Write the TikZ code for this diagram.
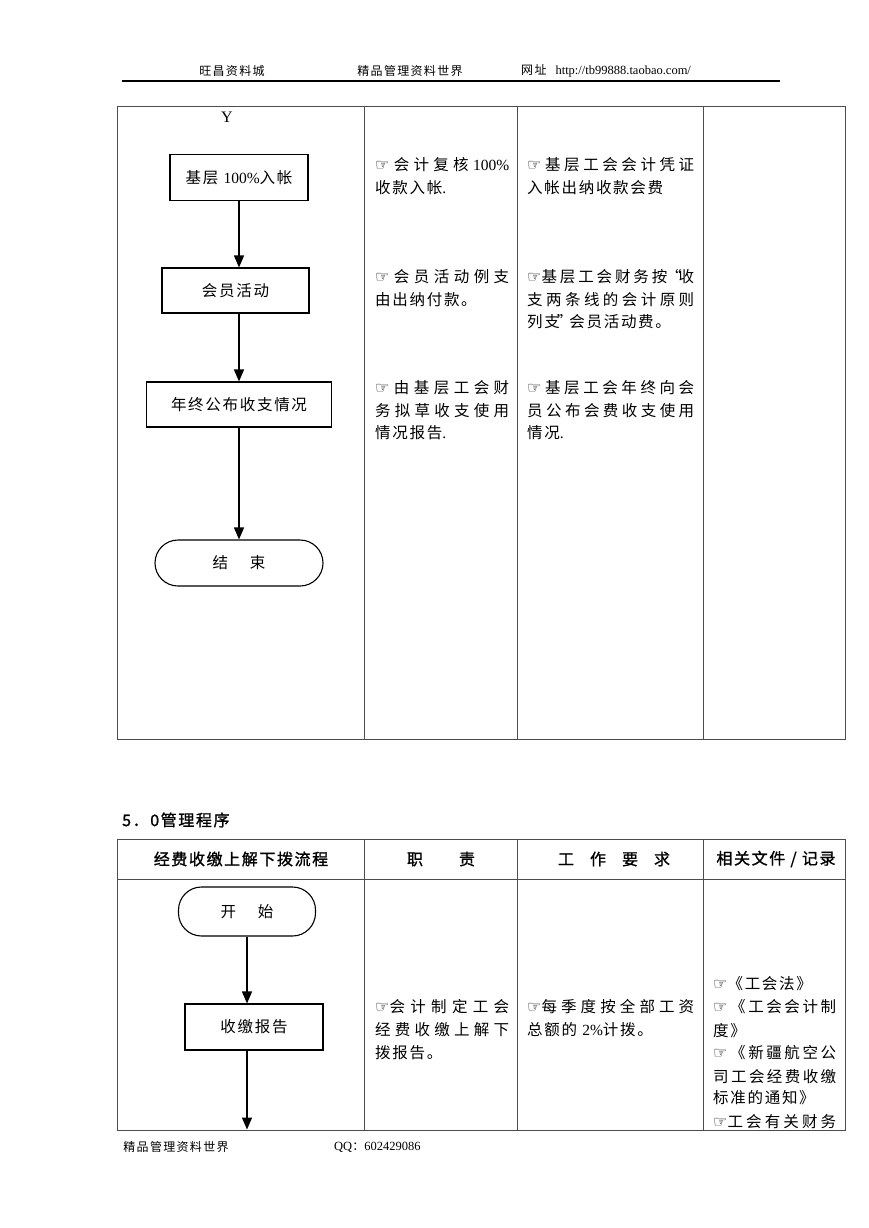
\documentclass[tikz,border=0pt]{standalone}
\usepackage{fontspec}
\setmainfont{Noto Sans CJK SC}[LetterSpace=11]
\newfontfamily\cjkn{Noto Sans CJK SC}
\newfontfamily\en{Liberation Serif}
\newfontfamily\sym{DejaVu Sans}
\newfontfamily\cjkb{Noto Sans CJK SC}[FakeBold=1.2,LetterSpace=10]
\usetikzlibrary{arrows.meta}
\newcommand\E[1]{{\en #1}}
\newcommand\hand{{\sym\fontsize{16}{16}\selectfont ☞}}
\newcommand\J[2]{\makebox[#1pt][s]{\cjkn #2}}
\newcommand\fs{\fontsize{15.5}{17}\selectfont}
\tikzset{
  tbl/.style={draw=black!70, line width=0.9pt},
  proc/.style={draw, line width=1.1pt, inner sep=0pt, font=\fs},
  term/.style={proc, rounded corners=23pt},
  arr/.style={line width=1.4pt, -{Triangle[length=12pt,width=10pt]}},
  txt/.style={anchor=base west, inner sep=0pt, font=\fs},
  hdr/.style={inner sep=0pt, font=\cjkb\fontsize{16}{18}\selectfont},
  small/.style={inner sep=0pt, font=\fontsize{12}{14}\selectfont}
}
\begin{document}
\begin{tikzpicture}[x=1pt,y=-1pt]
\fill[white] (0,0) rectangle (868,1228);
\useasboundingbox (0,0) rectangle (868,1228);
% page header
\node[small] (h1) at (232,71) {旺昌资料城};
\node[small] (h2) at (410,71) {精品管理资料世界};
\node[small, anchor=west] (h3) at (521,71) {网址\hspace{9pt}\E{\fontsize{12.5}{14}\selectfont http://tb99888.taobao.com/}};
\draw[line width=1.1pt] (122,81) -- (780,81);
% upper table
\draw[tbl] (117,106) rectangle (845,739);
\foreach \x in {364,517,703} \draw[tbl] (\x,106) -- (\x,739);
\node[inner sep=0pt, font=\en\fontsize{16}{16}\selectfont] (yy) at (227,117) {Y};
\node[proc, minimum width=138pt, minimum height=46pt] (b1) at (239,177.5) {基层 \E{100\%}入帐};
\node[proc, minimum width=147pt, minimum height=45pt] (b2) at (235.5,290.5) {会员活动};
\node[proc, minimum width=185pt, minimum height=45pt] (b3) at (239,404.5) {年终公布收支情况};
\node[term, minimum width=168pt, minimum height=46pt] (e) at (239,563) {结\hspace{22pt}束};
\draw[arr] (b1.south) -- (b1.south |- b2.north);
\draw[arr] (b1.south |- b2.south) -- (b1.south |- b3.north);
\draw[arr] (b3.south) -- (b3.south |- e.north);
% column 2, upper
\node[txt] (c21) at (375,170.5) {\J{134}{\hand{} 会 计 复 核 \E{100\%}}};
\node[txt] (c22) at (375,193.5) {收款入帐\E{.}};
\node[txt] (c23) at (375,282.5) {\J{134}{\hand{} 会 员 活 动 例 支}};
\node[txt] (c24) at (375,305.5) {由出纳付款。};
\node[txt] (c25) at (375,393.5) {\J{134}{\hand{} 由 基 层 工 会 财}};
\node[txt] (c26) at (375,416.5) {\J{134}{务 拟 草 收 支 使 用}};
\node[txt] (c27) at (375,438.5) {情况报告\E{.}};
% column 3, upper
\node[txt] (c31) at (527,170.5) {\J{167}{\hand{} 基 层 工 会 会 计 凭 证}};
\node[txt] (c32) at (527,193.5) {入帐出纳收款会费};
\node[txt] (c33) at (527,282.5) {\J{167}{\hand{}基 层 工 会 财 务 按 \kern-4pt“\kern-3pt收}};
\node[txt] (c34) at (527,305.5) {\J{167}{支 两 条 线 的 会 计 原 则}};
\node[txt] (c35) at (527,327.5) {列支\kern-3pt”\kern-3pt会员活动费。};
\node[txt] (c36) at (527,393.5) {\J{167}{\hand{} 基 层 工 会 年 终 向 会}};
\node[txt] (c37) at (527,416.5) {\J{167}{员 公 布 会 费 收 支 使 用}};
\node[txt] (c38) at (527,438.5) {情况\E{.}};
% section title
\node[hdr, anchor=west] (sec) at (122,820) {5．0管理程序};
% lower table
\draw[tbl] (117,839) rectangle (845,1130);
\draw[tbl] (117,879) -- (845,879);
\foreach \x in {364,517,703} \draw[tbl] (\x,839) -- (\x,1130);
\node[hdr] (t1) at (241,859) {经费收缴上解下拨流程};
\node[hdr] (t2) at (441,859) {职\hspace{36pt}责};
\node[hdr] (t3) at (614,859) {工\hspace{16pt}作\hspace{16pt}要\hspace{16pt}求};
\node[hdr] (t4) at (776,859) {相关文件 / 记录};
\node[term, minimum width=137pt, minimum height=49pt] (s) at (247,911.5) {开\hspace{22pt}始};
\node[proc, minimum width=138pt, minimum height=46pt] (r) at (254,1027) {收缴报告};
\coordinate (endc) at (247,1129.5);
\draw[arr] (s.south) -- (s.south |- r.north);
\draw[arr] (s.south |- r.south) -- (endc);
% column 2, lower
\node[txt] (d21) at (375,1012) {\J{134}{\hand{}会 计 制 定 工 会}};
\node[txt] (d22) at (375,1035) {\J{134}{经 费 收 缴 上 解 下}};
\node[txt] (d23) at (375,1058) {拨报告。};
% column 3, lower
\node[txt] (d31) at (527,1012) {\J{167}{\hand{}每 季 度 按 全 部 工 资}};
\node[txt] (d32) at (527,1035) {总额的 \E{2\%}计拨。};
% column 4, lower
\node[txt] (d41) at (713,989) {\hand{}《工会法》};
\node[txt] (d42) at (713,1012) {\J{123}{\hand{} 《 工 会 会 计 制}};
\node[txt] (d43) at (713,1036) {度》};
\node[txt] (d44) at (713,1058) {\J{123}{\hand{} 《 新 疆 航 空 公}};
\node[txt] (d45) at (713,1082) {\J{123}{司 工 会 经 费 收 缴}};
\node[txt] (d46) at (713,1103) {标准的通知》};
\node[txt] (d47) at (713,1127) {\J{123}{\hand{}工 会 有 关 财 务}};
% page footer
\node[small] (f1) at (176,1147) {精品管理资料世界};
\node[small, anchor=west] (f2) at (334,1147) {\E{\fontsize{12.5}{14}\selectfont QQ}：\E{\fontsize{12.5}{14}\selectfont 602429086}};
\end{tikzpicture}
\end{document}
